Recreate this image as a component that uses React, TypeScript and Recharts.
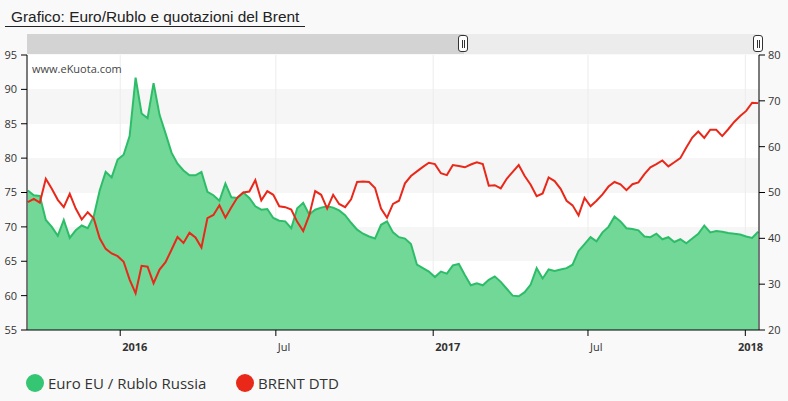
import { ComposedChart, Area, Line, XAxis, YAxis, CartesianGrid } from "recharts";

// weekly closes, first point 15 Sep 2015
const START = Date.UTC(2015, 8, 15);
const DAY = 86400000;

const rubRates = [
  75.3, 74.6, 74.5, 71, 70, 68.7, 71, 68.4, 69.5, 70.2, 69.8, 71.5, 75.3, 78, 77.2, 79.8,
  80.5, 83.2, 91.7, 86.5, 85.8, 90.9, 86.3, 83.6, 80.8, 79.2, 78.2, 77.5, 77.5, 78, 75.1,
  74.6, 73.8, 76.3, 74.3, 74.2, 75, 74.2, 73, 72.5, 72.6, 71.3, 70.9, 70.8, 69.8, 72.7,
  73.5, 71.8, 72.5, 72.8, 73, 72.8, 72.4, 71.7, 70.6, 69.6, 69, 68.6, 68.3, 70.3, 70.8,
  69.2, 68.5, 68.3, 67.5, 64.5, 64, 63.5, 62.7, 63.5, 63.2, 64.4, 64.6, 63, 61.5, 61.8,
  61.5, 62.3, 62.8, 62, 61, 60, 59.9, 60.5, 61.6, 64, 62.5, 63.8, 63.6, 63.8, 64, 64.5,
  66.5, 67.5, 68.5, 67.9, 69.2, 70, 71.5, 70.8, 69.8, 69.7, 69.5, 68.6, 68.5, 69, 68.2,
  68.5, 67.8, 68.2, 67.6, 68.3, 69, 70.2, 69.2, 69.4, 69.3, 69.1, 69, 68.9, 68.6, 68.4,
  69.3,
];

const brentPrices = [
  47.9, 48.6, 47.8, 53, 50.8, 48.4, 46.8, 49.7, 46.5, 44.1, 45.7, 44.4, 40, 37.7, 36.7,
  36.1, 34.9, 31, 28, 34, 33.8, 30.2, 33.2, 34.8, 37.5, 40.3, 39, 41.2, 40.2, 38, 44.4,
  45.1, 47.2, 44.5, 46.8, 48.9, 50, 50.2, 52.7, 48.3, 50.3, 49.5, 47, 46.8, 46.3, 43.6,
  41.6, 45, 50.3, 49.5, 46.5, 49.5, 47.5, 46.8, 48.5, 52.3, 52.4, 52.3, 51, 46.5, 44.5,
  47.5, 48.2, 52, 53.6, 54.6, 55.6, 56.5, 56.2, 54.2, 53.8, 56, 55.8, 55.5, 56.1, 56.6,
  56.2, 51.5, 51.6, 50.9, 53, 54.5, 56, 53.6, 51.7, 49.2, 49.8, 53.3, 52.5, 50.8, 48.2,
  47.2, 45, 48.8, 47, 48.2, 49.6, 51.3, 52.3, 51.8, 50.5, 51.8, 52.2, 54, 55.5, 56.2, 57,
  55.7, 56.6, 57.5, 59.8, 62, 63.3, 61.9, 63.7, 63.7, 62.3, 63.8, 65.4, 66.7, 67.8, 69.6,
  69.5,
];

const xTickDates = ["2016-01-01", "2016-07-01", "2017-01-01", "2017-07-01", "2018-01-01"];
const xTickLabels = ["2016", "Jul", "2017", "Jul", "2018"];
const leftTicks = [55, 60, 65, 70, 75, 80, 85, 90, 95];
const rightTicks = [20, 30, 40, 50, 60, 70, 80];

const seriesNames = ["Euro EU / Rublo Russia", "BRENT DTD"];
const seriesColors = ["#34c672", "#e9281a"];

const data = rubRates.map((rub, i) => ({ t: START + i * 7 * DAY, rub, brent: brentPrices[i] }));
const xTicks = xTickDates.map((d) => Date.parse(d));

const font = '"Open Sans", sans-serif';

function XTick(props: any) {
  const { x, y, payload } = props;
  const idx = xTicks.indexOf(payload.value);
  const label = xTickLabels[idx] ?? "";
  const isYear = /^\d{4}$/.test(label);
  return (
    <text
      x={x + 2}
      y={y}
      dy="0.71em"
      textAnchor="start"
      fontSize={11}
      fontFamily={font}
      fontWeight={isYear ? 700 : 400}
      fill="#333"
    >
      {label}
    </text>
  );
}

function Handle({ left }: { left: number }) {
  return (
    <div
      style={{
        position: "absolute",
        left: left - 6,
        top: 35,
        width: 10,
        height: 17,
        background: "#fff",
        border: "1px solid #333",
        borderRadius: 3,
        boxSizing: "border-box",
      }}
    >
      <div style={{ position: "absolute", left: 3, top: 4, width: 1, height: 8, background: "#333" }} />
      <div style={{ position: "absolute", left: 5, top: 4, width: 1, height: 8, background: "#333" }} />
    </div>
  );
}

export default function App() {
  return (
    <div
      style={{
        position: "absolute",
        left: 0,
        top: 0,
        width: 788,
        height: 401,
        background: "#f9f9f9",
        fontFamily: font,
        overflow: "hidden",
      }}
    >
      <div
        style={{
          position: "absolute",
          left: 11,
          top: 8,
          fontFamily: '"Liberation Sans", Arial, sans-serif',
          fontSize: 15.4,
          color: "#222",
          whiteSpace: "nowrap",
        }}
      >
        Grafico: Euro/Rublo e quotazioni del Brent
      </div>
      <div style={{ position: "absolute", left: 5, top: 26, width: 300, height: 1, background: "#222" }} />

      <div style={{ position: "absolute", left: 0, top: 0 }}>
        <ComposedChart width={788} height={401} data={data} margin={{ top: 55, right: 0, bottom: 41, left: 0 }}>
          <CartesianGrid
            yAxisId="left"
            vertical={false}
            stroke="transparent"
            horizontalFill={["#ffffff", "#f6f6f6"]}
          />
          <CartesianGrid yAxisId="left" horizontal={false} stroke="#ececec" />
          <XAxis
            dataKey="t"
            type="number"
            domain={[Date.UTC(2015, 8, 14), Date.UTC(2018, 0, 17)]}
            allowDataOverflow
            ticks={xTicks}
            tick={<XTick />}
            tickSize={6}
            tickMargin={7}
            height={30}
            axisLine={{ stroke: "#000" }}
            tickLine={{ stroke: "#000" }}
          />
          <YAxis
            yAxisId="left"
            domain={[55, 95]}
            ticks={leftTicks}
            width={27}
            tickSize={6}
            tickMargin={4}
            axisLine={{ stroke: "#000" }}
            tickLine={{ stroke: "#000" }}
            tick={{ fontSize: 11, fill: "#333", fontFamily: font }}
          />
          <YAxis
            yAxisId="right"
            orientation="right"
            domain={[20, 80]}
            ticks={rightTicks}
            width={29}
            tickSize={6}
            tickMargin={3}
            axisLine={{ stroke: "#000" }}
            tickLine={{ stroke: "#000" }}
            tick={{ fontSize: 11, fill: "#333", fontFamily: font, textAnchor: "start" }}
          />
          <Area
            yAxisId="left"
            type="linear"
            dataKey="rub"
            name={seriesNames[0]}
            stroke="#2dbd69"
            strokeWidth={2}
            fill="#71d898"
            fillOpacity={1}
            dot={false}
            activeDot={false}
            isAnimationActive={false}
          />
          <Line
            yAxisId="right"
            type="linear"
            dataKey="brent"
            name={seriesNames[1]}
            stroke={seriesColors[1]}
            strokeWidth={2}
            dot={false}
            activeDot={false}
            isAnimationActive={false}
          />
        </ComposedChart>
      </div>

      <div style={{ position: "absolute", left: 27, top: 34, width: 437, height: 20, background: "#d3d3d3" }} />
      <div style={{ position: "absolute", left: 464, top: 34, width: 295, height: 20, background: "#ececec" }} />
      <Handle left={464} />
      <Handle left={759} />

      <div style={{ position: "absolute", left: 32, top: 61, fontSize: 11, color: "#444" }}>www.eKuota.com</div>

      {seriesNames.map((name, i) => (
        <div
          key={name}
          style={{
            position: "absolute",
            left: i === 0 ? 26 : 236,
            top: 373,
            height: 20,
            display: "flex",
            alignItems: "center",
            whiteSpace: "nowrap",
          }}
        >
          <span
            style={{
              display: "inline-block",
              width: 18,
              height: 18,
              borderRadius: 9,
              background: seriesColors[i],
              marginRight: 4,
            }}
          />
          <span style={{ fontSize: 15, color: "#333" }}>{name}</span>
        </div>
      ))}
    </div>
  );
}
